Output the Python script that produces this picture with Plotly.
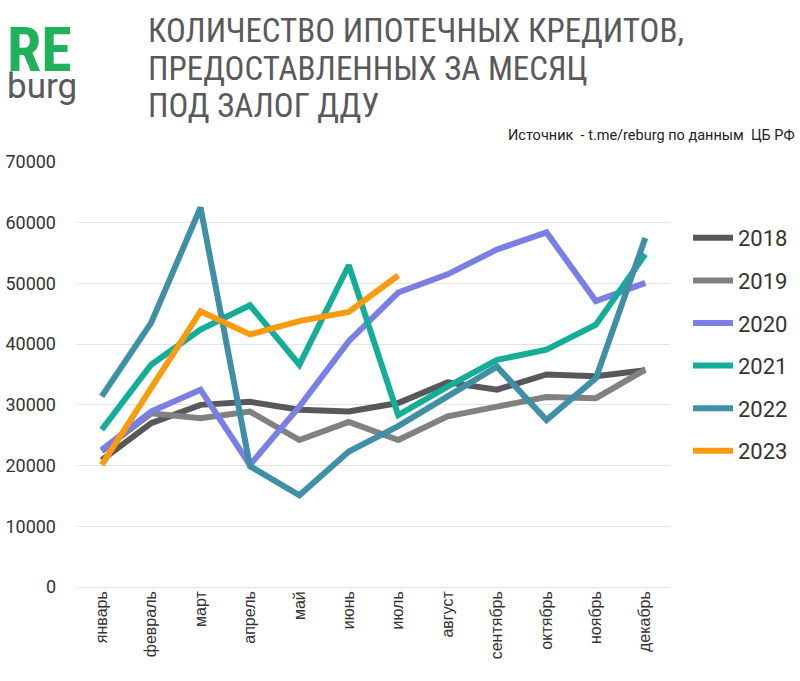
import plotly.graph_objects as go

months = ["январь", "февраль", "март", "апрель", "май", "июнь", "июль",
          "август", "сентябрь", "октябрь", "ноябрь", "декабрь"]

v2018 = [20900, 27000, 30000, 30500, 29200, 28900, 30300, 33700, 32500, 35000, 34700, 35700]
v2019 = [22400, 28600, 27800, 28900, 24200, 27200, 24200, 28100, 29700, 31300, 31100, 35800]
v2020 = [22600, 28900, 32500, 20100, 29700, 40500, 48500, 51500, 55600, 58400, 47100, 50100]
v2021 = [25900, 36600, 42400, 46400, 36600, 53000, 28300, 33000, 37400, 39100, 43200, 54800]
v2022 = [31400, 43500, 62500, 19900, 15100, 22300, 26500, 31400, 36300, 27500, 34400, 57500]
v2023 = [20100, 32800, 45400, 41600, 43800, 45300, 51300]

series = [
    ("2018", v2018, "#58585c"),
    ("2019", v2019, "#818181"),
    ("2020", v2020, "#7a7fe6"),
    ("2021", v2021, "#14ae98"),
    ("2022", v2022, "#3f90a7"),
    ("2023", v2023, "#f99b0e"),
]

L, R, T, B = 77, 130, 162, 94
W, H = 800, 681
PW, PH = W - L - R, H - T - B

def px(x):
    return (x - L) / PW

def py(y):
    return (H - B - y) / PH

fig = go.Figure()
for name, vals, color in series:
    fig.add_trace(go.Scatter(
        x=months[:len(vals)], y=vals, name=name, mode="lines",
        legendgroup=name,
        line=dict(color=color, width=6),
    ))

fig.update_layout(
    width=W, height=H,
    margin=dict(l=L, r=R, t=T, b=B, autoexpand=False),
    paper_bgcolor="white", plot_bgcolor="white",
    font=dict(family="Roboto, Arial", color="#333333"),
    showlegend=True,
    legend=dict(
        x=px(688), xanchor="left", y=py(217), yanchor="top",
        font=dict(size=22, color="#333333", family="Roboto"),
        tracegroupgap=11, itemwidth=40,
        bgcolor="rgba(0,0,0,0)",
    ),
    xaxis=dict(
        type="category", categoryorder="array", categoryarray=months,
        range=[-0.5, 11.5], tickangle=-90, showgrid=False,
        tickfont=dict(size=16, color="#333333", family="Arial"),
        showline=False, zeroline=False, automargin=False,
    ),
    yaxis=dict(
        range=[0, 70000], dtick=10000, tickformat="d",
        showgrid=True, gridcolor="#e3e3e3", gridwidth=1,
        zeroline=True, zerolinecolor="#e3e3e3", zerolinewidth=1,
        tickfont=dict(size=18, color="#333333", family="Roboto"),
        ticklabelstandoff=20, automargin=False,
    ),
)

# Title
title_lines = ["КОЛИЧЕСТВО ИПОТЕЧНЫХ КРЕДИТОВ,", "ПРЕДОСТАВЛЕННЫХ ЗА МЕСЯЦ", "ПОД ЗАЛОГ ДДУ"]
for i, t in enumerate(title_lines):
    fig.add_annotation(
        text=t, xref="paper", yref="paper",
        x=px(146), xanchor="left",
        y=py(31 + 37 * i), yanchor="middle",
        showarrow=False,
        font=dict(family="Roboto Condensed, Roboto", size=33, color="#59595b"),
    )

# Logo
fig.add_annotation(
    text=("<span style='font-family:Roboto Condensed;font-size:62px;color:#1fb25a'><b>RE</b></span>"
          "<br><span style='font-size:35px'>burg</span>"),
    xref="paper", yref="paper",
    x=px(5), xanchor="left", align="left",
    y=py(60), yanchor="middle", showarrow=False,
    font=dict(family="Roboto", size=21, color="#59595b"),
)

# Source
fig.add_annotation(
    text="Источник  - t.me/reburg по данным  ЦБ РФ", xref="paper", yref="paper",
    x=px(797), xanchor="right",
    y=py(136), yanchor="middle", showarrow=False,
    font=dict(family="Roboto", size=14.5, color="#222222"),
)

fig.write_html(
    "out.html",
    config={"displayModeBar": False},
    post_script="document.body.style.margin='0px';document.body.style.overflow='hidden';",
)
